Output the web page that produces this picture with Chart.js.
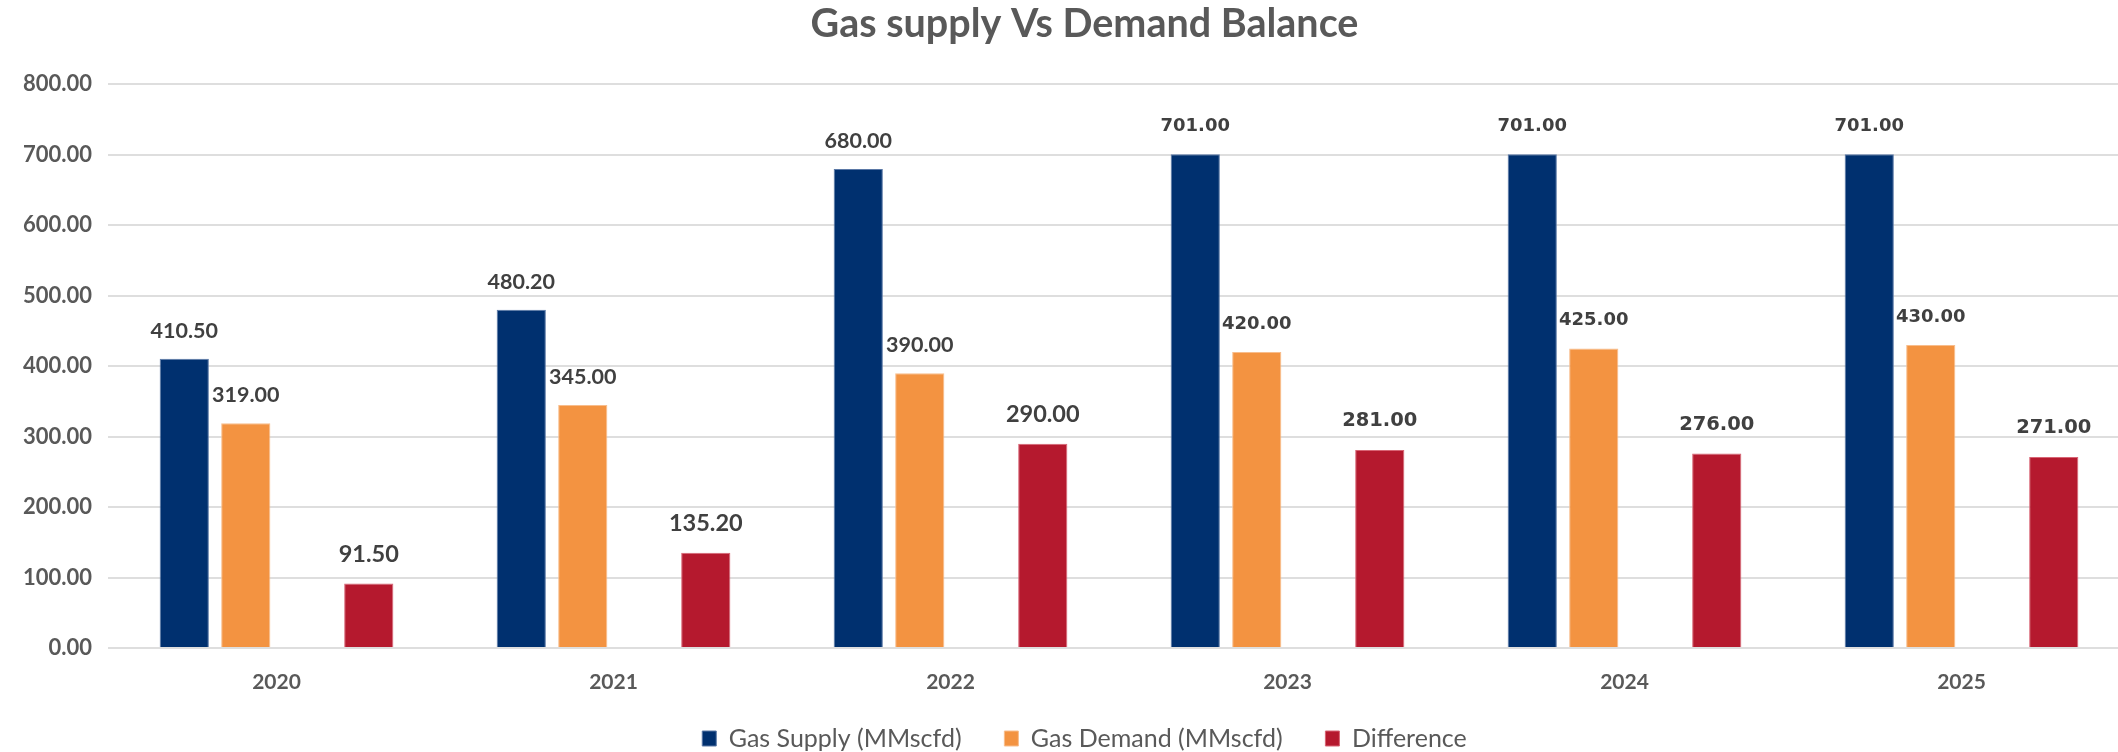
<!DOCTYPE html>
<html>
<head>
<meta charset="utf-8">
<script src="https://cdn.jsdelivr.net/npm/chart.js@4.4.1/dist/chart.umd.min.js"></script>
<style>
  html, body { margin: 0; padding: 0; background: #fff; overflow: hidden; }
  #wrap { width: 2162px; height: 752px; }
</style>
</head>
<body>
<div id="wrap"><canvas id="gasChart" width="2162" height="752"></canvas></div>
<script>
const years = ['2020', '2021', '2022', '2023', '2024', '2025'];
const supply = [410.5, 480.2, 680, 701, 701, 701];
const demand = [319, 345, 390, 420, 425, 430];
const difference = [91.5, 135.2, 290, 281, 276, 271];
const gap = [null, null, null, null, null, null];
const yTicks = [0, 100, 200, 300, 400, 500, 600, 700, 800];

const FONT = "Lato, 'Open Sans', sans-serif";
const WIDE = "'DejaVu Sans', Verdana, sans-serif";
const grey = '#595959';

// values above bars; the later years were labelled in a wider face
const valueLabels = {
    id: 'valueLabels',
    afterDatasetsDraw(chart) {
        const c = chart.ctx;
        chart.data.datasets.forEach((ds, i) => {
            if (!ds.showValues) return;
            const meta = chart.getDatasetMeta(i);
            meta.data.forEach((bar, j) => {
                const v = ds.data[j];
                if (v == null) return;
                c.save();
                c.font = j >= 3 ? 'bold ' + ds.wideSize + 'px ' + WIDE
                                : 'bold ' + ds.valueSize + 'px ' + FONT;
                c.fillStyle = '#404040';
                c.textAlign = 'center';
                c.textBaseline = 'middle';
                c.fillText(v.toFixed(2), bar.x, bar.y - ds.valueOffset);
                c.restore();
            });
        });
    }
};

const ctx = document.getElementById('gasChart').getContext('2d');

new Chart(ctx, {
    type: 'bar',
    data: {
        labels: years,
        datasets: [
            {
                label: 'Gas Supply (MMscfd)',
                data: supply,
                backgroundColor: '#00306f',
                borderColor: '#5a78a6',
                borderWidth: 1,
                showValues: true, valueSize: 21.5, wideSize: 18, valueOffset: 28
            },
            {
                label: 'Gas Demand (MMscfd)',
                data: demand,
                backgroundColor: '#f39341',
                borderColor: '#f8bd8c',
                borderWidth: 1,
                showValues: true, valueSize: 21.5, wideSize: 18, valueOffset: 28
            },
            {
                label: '',
                data: gap,
                backgroundColor: 'rgba(0,0,0,0)'
            },
            {
                label: 'Difference',
                data: difference,
                backgroundColor: '#b5192e',
                borderColor: '#d86474',
                borderWidth: 1,
                showValues: true, valueSize: 23.5, wideSize: 19.5, valueOffset: 29
            }
        ]
    },
    options: {
        responsive: false,
        animation: false,
        layout: { padding: { left: 7, right: 0, top: 0, bottom: -9 } },
        datasets: {
            bar: { barPercentage: 0.8, categoryPercentage: 0.73 }
        },
        plugins: {
            title: {
                display: true,
                text: 'Gas supply Vs Demand Balance',
                color: grey,
                font: { family: FONT, size: 39.5, weight: 'bold' },
                padding: { top: 1, bottom: 36 }
            },
            legend: {
                position: 'bottom',
                labels: {
                    color: grey,
                    font: { family: FONT, size: 25 },
                    boxWidth: 14,
                    boxHeight: 15,
                    padding: 30,
                    generateLabels: chart => Chart.defaults.plugins.legend.labels.generateLabels(chart)
                        .filter(item => item.text !== '')
                        .map((item, k, arr) => {
                            if (k < arr.length - 1) item.text += '  ';
                            return item;
                        })
                }
            },
            tooltip: { enabled: false }
        },
        scales: {
            x: {
                grid: { display: false },
                border: { display: false },
                afterFit: axis => { axis.height = 48; },
                ticks: {
                    color: grey,
                    font: { family: FONT, size: 21, weight: 'bold' },
                    padding: 14
                }
            },
            y: {
                min: 0,
                max: 800,
                afterBuildTicks: axis => { axis.ticks = yTicks.map(v => ({ value: v })); },
                grid: { color: '#dedede', lineWidth: 2, drawTicks: false },
                border: { display: false },
                ticks: {
                    color: grey,
                    font: { family: FONT, size: 22, weight: 'bold' },
                    padding: 16,
                    callback: v => v.toFixed(2)
                }
            },
            // empty strip on the right so title and legend sit where the original had them
            yRight: {
                position: 'right',
                grid: { display: false },
                border: { display: false },
                ticks: { display: false },
                afterFit: axis => { axis.width = 32; }
            }
        }
    },
    plugins: [valueLabels]
});
</script>
</body>
</html>
